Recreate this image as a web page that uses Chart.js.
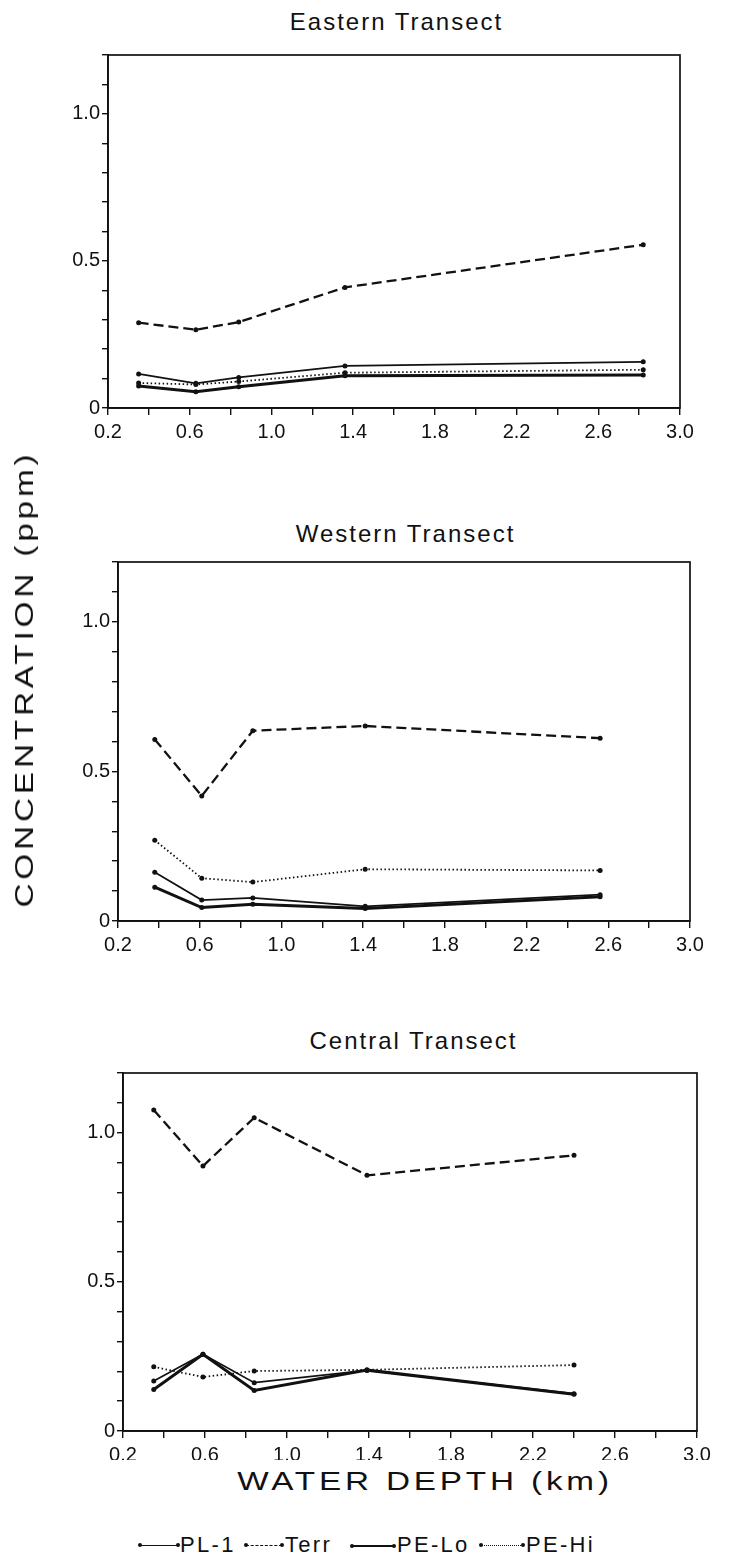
<!DOCTYPE html>
<html>
<head>
<meta charset="utf-8">
<script src="https://cdn.jsdelivr.net/npm/chart.js@4"></script>
<style>
  html,body{margin:0;padding:0;background:#fff;}
  body{width:729px;height:1561px;position:relative;overflow:hidden;font-family:"Liberation Sans",Arial,sans-serif;color:#111;}
  canvas{position:absolute;left:0;}
  .title{position:absolute;width:729px;text-align:center;font-size:24px;letter-spacing:2px;line-height:28px;}
  .ytitle{position:absolute;left:24px;top:679px;transform:translate(-50%,-50%) rotate(-90deg) scaleX(1.28);font-size:26px;letter-spacing:3px;white-space:nowrap;line-height:30px;}
  .xtitle{position:absolute;left:425px;top:1481px;transform:translate(-50%,-50%) scaleX(1.28);font-size:26px;letter-spacing:3px;white-space:nowrap;line-height:30px;}
  .leg{position:absolute;top:1531px;height:28px;font-size:22px;letter-spacing:2.3px;white-space:nowrap;line-height:28px;}
  .leg .sample{position:absolute;top:14px;height:0;}
  .leg .sample::before,.leg .sample::after{content:"";position:absolute;top:-3px;width:4px;height:4px;border-radius:50%;background:#111;}
  .leg .sample::before{left:-2px;}
  .leg .sample::after{right:-2px;}
  .leg .txt{position:absolute;top:0;}
</style>
</head>
<body>
<div class="title" style="top:8px;left:32px;">Eastern Transect</div>
<div class="title" style="top:520px;left:41px;">Western Transect</div>
<div class="title" style="top:1027px;left:49px;">Central Transect</div>
<canvas id="c1"></canvas>
<canvas id="c2"></canvas>
<canvas id="c3"></canvas>
<div class="ytitle">CONCENTRATION (ppm)</div>
<div class="xtitle">WATER DEPTH (km)</div>
<div id="legend"></div>
<script>
// ---- data ----
const seriesNames = ['PL-1', 'Terr', 'PE-Lo', 'PE-Hi'];

const eastDepth = [0.35, 0.63, 0.84, 1.36, 2.82];
const eastPL1   = [0.116, 0.084, 0.104, 0.143, 0.157];
const eastTerr  = [0.290, 0.266, 0.292, 0.410, 0.555];
const eastPELo  = [0.075, 0.055, 0.072, 0.110, 0.112];
const eastPEHi  = [0.085, 0.080, 0.090, 0.120, 0.130];

const westDepth = [0.38, 0.61, 0.86, 1.41, 2.56];
const westPL1   = [0.163, 0.070, 0.077, 0.049, 0.088];
const westTerr  = [0.607, 0.418, 0.636, 0.652, 0.611];
const westPELo  = [0.113, 0.045, 0.056, 0.042, 0.081];
const westPEHi  = [0.270, 0.143, 0.130, 0.173, 0.169];

const centDepth = [0.35, 0.59, 0.84, 1.39, 2.40];
const centPL1   = [0.168, 0.257, 0.162, 0.203, 0.125];
const centTerr  = [1.076, 0.888, 1.050, 0.857, 0.924];
const centPELo  = [0.139, 0.257, 0.136, 0.204, 0.123];
const centPEHi  = [0.215, 0.181, 0.201, 0.205, 0.221];

const xTickLabels = ['0.2', '0.6', '1.0', '1.4', '1.8', '2.2', '2.6', '3.0'];
const yTickLabels = ['0', '0.5', '1.0'];
const yTickValues = [0, 0.5, 1.0];

// ---- styles ----
const INK = '#111';
const FONT = '"Liberation Sans", Arial, sans-serif';
const styles = {
  'PL-1':  {borderWidth: 1.7, borderDash: []},
  'Terr':  {borderWidth: 2.3, borderDash: [10, 5]},
  'PE-Lo': {borderWidth: 3.0, borderDash: []},
  'PE-Hi': {borderWidth: 1.8, borderDash: [1.5, 2.5]}
};

function pts(xs, ys){ return xs.map((x,i)=>({x:x, y:ys[i]})); }

const boxPlugin = {
  id: 'box',
  afterDraw(chart){
    const a = chart.chartArea, ctx = chart.ctx;
    ctx.save();
    ctx.strokeStyle = INK; ctx.lineWidth = 1.7;
    ctx.strokeRect(a.left, a.top, a.right - a.left, a.bottom - a.top);
    ctx.restore();
  }
};

function makePanel(id, top, height, area, depth, series){
  const cv = document.getElementById(id);
  cv.style.top = top + 'px';
  cv.width = 729; cv.height = height;
  cv.style.width = '729px'; cv.style.height = height + 'px';
  const datasets = seriesNames.map((n, i) => Object.assign({
    label: n,
    data: pts(depth, series[i]),
    borderColor: INK,
    backgroundColor: INK,
    pointRadius: 2.5,
    pointBorderWidth: 0,
    pointBackgroundColor: INK,
    tension: 0,
    fill: false
  }, styles[n]));
  new Chart(cv, {
    type: 'line',
    data: {datasets},
    plugins: [boxPlugin],
    options: {
      responsive: false,
      animation: false,
      devicePixelRatio: 1,
      layout: {padding: {top: area.top - top, right: 729 - area.right, left: 0, bottom: 0}},
      plugins: {legend: {display: false}, title: {display: false}, tooltip: {enabled: false}},
      scales: {
        x: {
          type: 'linear', min: 0.2, max: 3.0,
          afterFit(s){ s.height = top + height - area.bottom; },
          grid: {drawOnChartArea: false, drawTicks: true, tickLength: 7, color: INK, lineWidth: 1.4},
          border: {display: true, color: INK, width: 1.7},
          ticks: {
            stepSize: 0.2, autoSkip: false, maxRotation: 0, color: INK, padding: 5,
            font: {family: FONT, size: 20},
            callback(v){
              const r = Math.round(v * 10);
              const lbl = (r / 10).toFixed(1);
              return xTickLabels.includes(lbl) ? lbl : '';
            }
          }
        },
        y: {
          type: 'linear', min: 0, max: 1.2,
          afterFit(s){ s.width = area.left; },
          grid: {drawOnChartArea: false, drawTicks: true, tickLength: 6, color: INK, lineWidth: 1.4},
          border: {display: true, color: INK, width: 1.7},
          ticks: {
            stepSize: 0.1, autoSkip: false, color: INK, padding: 2,
            font: {family: FONT, size: 20},
            callback(v){
              const r = Math.round(v * 10) / 10;
              const k = yTickValues.indexOf(r);
              return k >= 0 ? yTickLabels[k] : '';
            }
          }
        }
      }
    }
  });
}

makePanel('c1', 0, 450, {left: 108, right: 680, top: 55, bottom: 408},
  eastDepth, [eastPL1, eastTerr, eastPELo, eastPEHi]);
makePanel('c2', 500, 460, {left: 118, right: 690, top: 562, bottom: 921},
  westDepth, [westPL1, westTerr, westPELo, westPEHi]);
makePanel('c3', 1010, 450, {left: 123, right: 697, top: 1073, bottom: 1431},
  centDepth, [centPL1, centTerr, centPELo, centPEHi]);

// ---- legend ----
const legendPos = [
  {x: 140, w: 38, tx: 180},
  {x: 246, w: 36, tx: 285},
  {x: 352, w: 42, tx: 397},
  {x: 481, w: 42, tx: 526}
];
const legendBorder = {
  'PL-1': '1.6px solid #111',
  'Terr': '1.8px dashed #111',
  'PE-Lo': '2.6px solid #111',
  'PE-Hi': '1.6px dotted #111'
};
const lg = document.getElementById('legend');
seriesNames.forEach((n, i) => {
  const p = legendPos[i];
  const d = document.createElement('div');
  d.className = 'leg';
  d.style.left = p.x + 'px';
  d.innerHTML = '<div class="sample" style="left:0;width:' + p.w + 'px;border-top:' + legendBorder[n] + ';"></div>' +
                '<div class="txt" style="left:' + (p.tx - p.x) + 'px;">' + n + '</div>';
  lg.appendChild(d);
});
</script>
</body>
</html>
